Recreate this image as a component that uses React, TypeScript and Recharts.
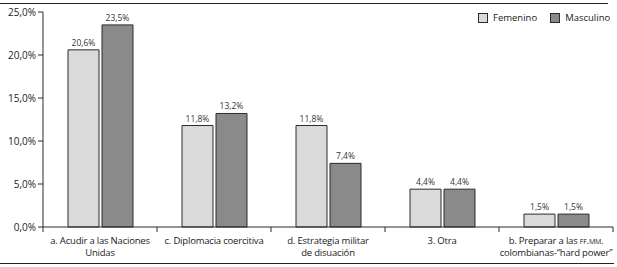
import React from "react";
import { BarChart, Bar, XAxis, YAxis, LabelList } from "recharts";

const categories = [
  ["a. Acudir a las Naciones", "Unidas"],
  ["c. Diplomacia coercitiva"],
  ["d. Estrategia militar", "de disuación"],
  ["3. Otra"],
  ["b. Preparar a las ff.mm.", "colombianas-“hard power”"],
];
const femenino = [20.6, 11.8, 11.8, 4.4, 1.5];
const masculino = [23.5, 13.2, 7.4, 4.4, 1.5];
const yTicks = [0, 5, 10, 15, 20, 25];

const LIGHT = "#dadada";
const DARK = "#8a8a8a";
const EDGE = "#2b2b2b";
const FONT = "'Open Sans', 'Liberation Sans', sans-serif";

const data = categories.map((c, i) => ({
  key: String(i),
  lines: c,
  femenino: femenino[i],
  masculino: masculino[i],
}));

const pct = (v: number) => v.toFixed(1).replace(".", ",") + "%";

// "ff.mm." is set in small caps in the source
function renderLine(l: string) {
  const m = l.indexOf("ff.mm.");
  if (m < 0) return l;
  return (
    <>
      {l.slice(0, m)}
      <tspan style={{ fontVariant: "small-caps" }}>ff.mm.</tspan>
      {l.slice(m + 6)}
    </>
  );
}

function CatTick(props: any) {
  const { x, y, payload, index } = props;
  const half = payload?.offset ?? 57;
  const lines = data[Number(payload.value)].lines;
  return (
    <g>
      {index === 0 && <line x1={x - half} x2={x - half} y1={y - 8} y2={y - 3} stroke={EDGE} />}
      <line x1={x + half} x2={x + half} y1={y - 8} y2={y - 3} stroke={EDGE} />
      <text textAnchor="middle" fontSize={9.5} fill="#222" fontFamily={FONT} letterSpacing={-0.2}>
        {lines.map((l: string, k: number) => (
          <tspan key={k} x={x} y={y + 9 + k * 12}>
            {renderLine(l)}
          </tspan>
        ))}
      </text>
    </g>
  );
}

function LegendBox() {
  const item = (label: string, fill: string) => (
    <span style={{ display: "inline-flex", alignItems: "center", marginLeft: 13 }}>
      <span
        style={{
          width: 8,
          height: 8,
          background: fill,
          border: `1px solid ${EDGE}`,
          marginRight: 5,
        }}
      />
      {label}
    </span>
  );
  return (
    <div
      style={{
        position: "absolute",
        left: 465,
        top: 11,
        fontSize: 9.5,
        fontFamily: FONT,
        color: "#222",
        display: "flex",
      }}
    >
      {item("Femenino", LIGHT)}
      {item("Masculino", DARK)}
    </div>
  );
}

export default function App() {
  return (
    <div style={{ position: "absolute", left: 0, top: 0, width: 617, height: 267, background: "#fff" }}>
      <div style={{ position: "absolute", left: 0, top: 3, width: 608, height: 0, borderTop: "1px solid #222" }} />
      <div style={{ position: "absolute", left: 0, top: 263, width: 614, height: 0, borderTop: "1px solid #222" }} />
      <BarChart
        width={617}
        height={267}
        data={data}
        margin={{ top: 12, right: 4, left: 0, bottom: 0 }}
        barGap={3}
      >
        <YAxis
          domain={[0, 25]}
          ticks={yTicks}
          width={43}
          tickFormatter={pct}
          tick={{ fontSize: 10, fill: "#222", fontFamily: FONT }}
          axisLine={{ stroke: EDGE }}
          tickLine={{ stroke: EDGE }}
          tickSize={5}
          interval={0}
        />
        <XAxis
          dataKey="key"
          height={40}
          axisLine={{ stroke: EDGE }}
          tickLine={false}
          tick={<CatTick />}
          interval={0}
        />
        <Bar dataKey="femenino" fill={LIGHT} stroke={EDGE} strokeWidth={1} barSize={31} isAnimationActive={false}>
          <LabelList dataKey="femenino" position="top" formatter={(v: any) => pct(Number(v))} style={{ fontSize: 8.5, fill: "#333", fontFamily: FONT }} offset={4} />
        </Bar>
        <Bar dataKey="masculino" fill={DARK} stroke={EDGE} strokeWidth={1} barSize={31} isAnimationActive={false}>
          <LabelList dataKey="masculino" position="top" formatter={(v: any) => pct(Number(v))} style={{ fontSize: 8.5, fill: "#333", fontFamily: FONT }} offset={4} />
        </Bar>
      </BarChart>
      <LegendBox />
    </div>
  );
}
